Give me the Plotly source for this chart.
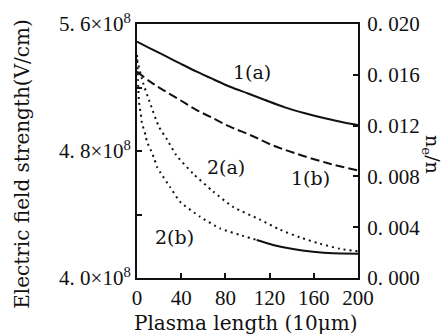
import plotly.graph_objects as go

# ---- data ----
x_1a = [0, 11.8, 23.8, 38.9, 54, 69, 84.2, 100.5, 115.8, 133.9, 152, 170, 188.2, 200]
E_1a = [5.489e8, 5.447e8, 5.405e8, 5.352e8, 5.300e8, 5.252e8, 5.205e8, 5.162e8,
        5.121e8, 5.075e8, 5.038e8, 5.006e8, 4.978e8, 4.964e8]

x_1b = [0, 11.8, 23.8, 38.9, 54, 69, 84.2, 102.3, 122, 143, 172.9, 200]
E_1b = [5.300e8, 5.237e8, 5.184e8, 5.121e8, 5.058e8, 5.006e8, 4.953e8, 4.901e8,
        4.838e8, 4.786e8, 4.723e8, 4.678e8]

x_2a = [0, 5.4, 10.9, 19.9, 27.2, 35.3, 51, 69.1, 86.9, 111.3, 129.4, 147.5, 165.6, 183.7, 200]
n_2a = [0.0172, 0.0154, 0.0140, 0.0119, 0.0109, 0.0097, 0.0082, 0.0068, 0.0056,
        0.0046, 0.0038, 0.0032, 0.0027, 0.0023, 0.0021]

x_2b = [0, 0.9, 1.8, 3.3, 4.5, 7.9, 9.0, 12.4, 15.4, 18.1, 21.4, 29.9, 38.9, 57,
        75.1, 93.2, 108.3, 123.1, 141.2, 159.3, 177.4, 200]
n_2b = [0.01756, 0.01559, 0.01386, 0.01299, 0.01220, 0.01120, 0.01073, 0.01008,
        0.00945, 0.00876, 0.00827, 0.00717, 0.00601, 0.00483, 0.00391, 0.00339,
        0.00299, 0.00260, 0.00228, 0.00207, 0.00194, 0.00191]
split_2b = 16  # 2(b) is dotted up to here, solid afterwards

x_ticks = [0, 40, 80, 120, 160, 200]
left_ticks = [4.0e8, 4.8e8, 5.6e8]
left_labels = ["4. 0×10<sup>8</sup>", "4. 8×10<sup>8</sup>", "5. 6×10<sup>8</sup>"]
left_minor = [4.4e8, 5.2e8]
right_ticks = [0.000, 0.004, 0.008, 0.012, 0.016, 0.020]
right_labels = ["0. 000", "0. 004", "0. 008", "0. 012", "0. 016", "0. 020"]

FONT = "Liberation Serif"
TFONT = "DejaVu Serif"
BLACK = "#111111"

fig = go.Figure()
fig.add_trace(go.Scatter(x=x_1a, y=E_1a, mode="lines", line=dict(color=BLACK, width=2, shape="spline")))
fig.add_trace(go.Scatter(x=x_1b, y=E_1b, mode="lines",
                         line=dict(color=BLACK, width=2, dash="9px,4px", shape="spline")))
fig.add_trace(go.Scatter(x=x_2a, y=n_2a, yaxis="y2", mode="lines",
                         line=dict(color=BLACK, width=2, dash="2px,4px", shape="spline", smoothing=0.6)))
fig.add_trace(go.Scatter(x=x_2b[:split_2b + 1], y=n_2b[:split_2b + 1], yaxis="y2", mode="lines",
                         line=dict(color=BLACK, width=2, dash="2px,4px", shape="spline", smoothing=0.6)))
fig.add_trace(go.Scatter(x=x_2b[split_2b:], y=n_2b[split_2b:], yaxis="y2", mode="lines",
                         line=dict(color=BLACK, width=2, shape="spline", smoothing=0.6)))

labels = [("1(a)", 104, 5.30e8), ("1(b)", 156.6, 4.63e8), ("2(a)", 80.5, 4.70e8), ("2(b)", 33.5, 4.258e8)]
for t, lx, ly in labels:
    fig.add_annotation(x=lx, y=ly, xref="x", yref="y", text=t, showarrow=False,
                       xanchor="center", yanchor="middle",
                       font=dict(family=TFONT, size=19, color=BLACK))

title_font = dict(family=TFONT, size=20, color=BLACK)
fig.add_annotation(xref="paper", yref="paper", x=-0.52, y=0.45, text="Electric field strength(V/cm)",
                   textangle=-90, showarrow=False, xanchor="center", yanchor="middle", font=title_font)
fig.add_annotation(xref="paper", yref="paper", x=0.493, y=-0.177, text="Plasma length (10μm)",
                   showarrow=False, xanchor="center", yanchor="middle", font=title_font)
fig.add_annotation(xref="paper", yref="paper", x=1.335, y=0.488, text="n<sub>e</sub>/n",
                   textangle=90, showarrow=False, xanchor="center", yanchor="middle",
                   font=dict(family=TFONT, size=19, color=BLACK))

axis_common = dict(showgrid=False, zeroline=False, showline=True, linecolor=BLACK, linewidth=2,
                   ticks="inside", ticklen=5, tickwidth=1.5, tickcolor=BLACK, automargin=False,
                   tickfont=dict(family=FONT, size=21, color=BLACK))

fig.update_layout(
    width=446, height=336,
    margin=dict(l=137, r=88, t=24, b=58, autoexpand=False),
    paper_bgcolor="white", plot_bgcolor="white",
    showlegend=False,
    xaxis=dict(range=[0, 200], tickvals=x_ticks, mirror=True, **axis_common),
    yaxis=dict(range=[4.0e8, 5.6e8], tickvals=left_ticks, ticktext=left_labels,
               minor=dict(tickmode="array", tickvals=left_minor, ticks="inside", ticklen=5,
                          tickwidth=1.5, tickcolor=BLACK),
               **axis_common),
    yaxis2=dict(range=[0, 0.020], tickvals=right_ticks, ticktext=right_labels,
                overlaying="y", side="right", ticklabelstandoff=3, **axis_common),
)

fig.write_html("out.html", config={"displayModeBar": False},
               post_script="document.body.style.margin='0px';")
